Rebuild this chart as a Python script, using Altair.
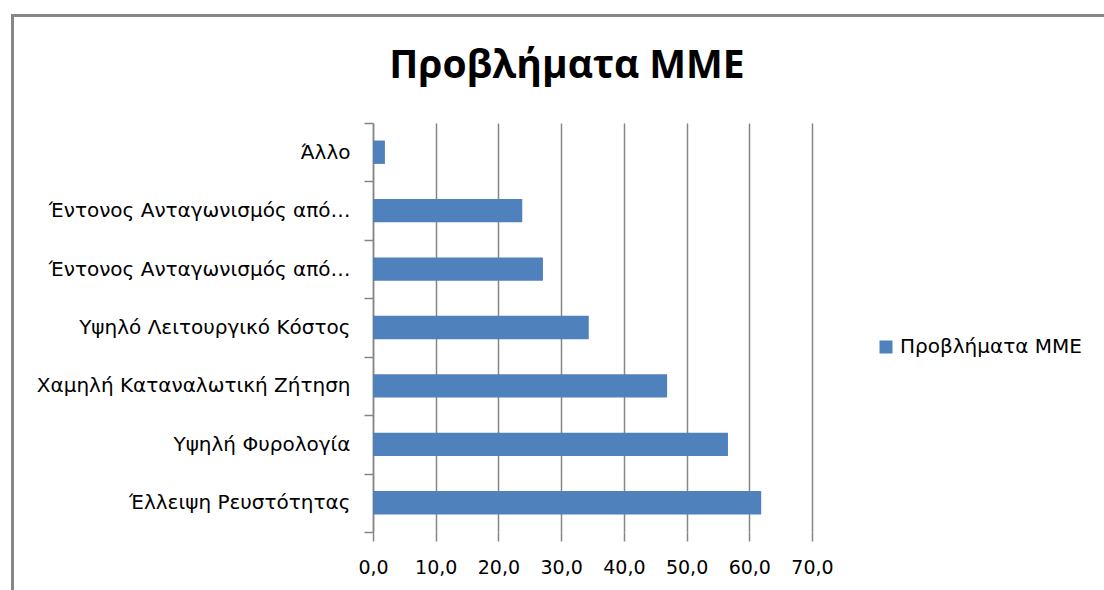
import altair as alt
import pandas as pd

categories = ["Έλλειψη Ρευστότητας", "Υψηλή Φυρολογία", "Χαμηλή Καταναλωτική Ζήτηση",
              "Υψηλό Λειτουργικό Κόστος", "Έντονος Ανταγωνισμός από… (α)",
              "Έντονος Ανταγωνισμός από… (β)", "Άλλο"]
labels = ["Έλλειψη Ρευστότητας", "Υψηλή Φυρολογία", "Χαμηλή Καταναλωτική Ζήτηση",
          "Υψηλό Λειτουργικό Κόστος", "Έντονος Ανταγωνισμός από…",
          "Έντονος Ανταγωνισμός από…", "Άλλο"]
values = [61.9, 56.6, 46.9, 34.4, 27.1, 23.8, 1.9]
series = "Προβλήματα ΜΜΕ"
title_text = "Προβλήματα ΜΜΕ"
x_ticks = [0, 10, 20, 30, 40, 50, 60, 70]

df = pd.DataFrame({"cat": categories, "value": values, "series": series})
label_map = "{" + ",".join(f"'{c}':'{l}'" for c, l in zip(categories, labels)) + "}"
order = list(reversed(categories))

FONT = "DejaVu Sans"
GRID = "#868686"

bars = alt.Chart(df).mark_bar(color="#4F81BD", height={"band": 0.4}).encode(
    x=alt.X("value:Q", scale=alt.Scale(domain=[0, 70], nice=False),
            axis=alt.Axis(values=x_ticks, grid=True, gridColor=GRID, gridWidth=1.5,
                          domain=False, ticks=True, tickColor=GRID, tickWidth=1.5, tickSize=9,
                          labelExpr="replace(format(datum.value, '.1f'), '.', ',')",
                          labelFont=FONT, labelFontSize=19, labelColor="#000000",
                          labelFlush=False, labelOverlap=False,
                          labelPadding=26, labelBaseline="middle", title=None)),
    y=alt.Y("cat:N", sort=order, scale=alt.Scale(paddingInner=0, paddingOuter=0),
            axis=alt.Axis(labelExpr=f"{label_map}[datum.value]", domain=True,
                          domainColor=GRID, domainWidth=1.5, ticks=True, tickColor=GRID,
                          tickWidth=1.5, tickSize=9, tickBand="extent",
                          labelFont=FONT, labelFontSize=20, labelColor="#000000",
                          labelPadding=14, labelLimit=400, title=None)),
    color=alt.Color("series:N", scale=alt.Scale(range=["#4F81BD"]),
                    legend=alt.Legend(title=None, orient="none", legendX=503, legendY=214,
                                      symbolType="square", symbolSize=169,
                                      labelFont=FONT, labelFontSize=20, labelColor="#000000",
                                      labelLimit=300, padding=0, offset=0)),
)

border = alt.Chart(alt.Data(values=[{}])).mark_rect(
    fill="transparent", stroke=GRID, strokeWidth=3
).encode(x=alt.value(-360.5), x2=alt.value(760), y=alt.value(-107.5), y2=alt.value(500))

title = alt.Chart(alt.Data(values=[{"t": title_text}])).mark_text(
    font="Open Sans", fontSize=39, fontWeight="bold", color="#000000",
    align="center", baseline="alphabetic"
).encode(text="t:N", x=alt.value(194), y=alt.value(-45))

chart = alt.layer(border, bars, title).properties(
    width=439, height=409,
    autosize=alt.AutoSizeParams(type="none"),
    padding={"left": 373, "top": 123, "right": 292, "bottom": 58},
    background="white",
).configure_view(stroke=None)

chart.save("out.html", embed_options={"renderer": "svg", "actions": False})
